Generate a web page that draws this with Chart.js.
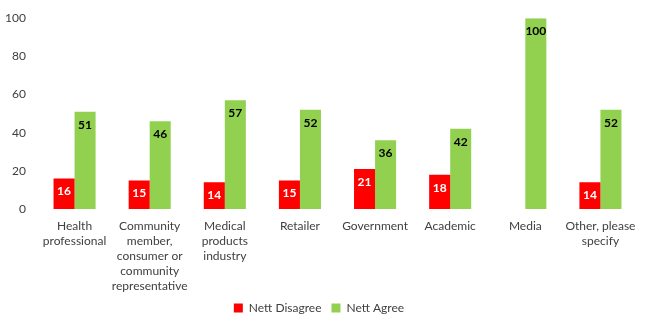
<!DOCTYPE html>
<html lang="en">
<head>
  <meta charset="UTF-8" />
  <title>Nett Agree / Disagree by Stakeholder</title>
  <script src="https://cdn.jsdelivr.net/npm/chart.js"></script>
  <style>
    html, body { margin: 0; padding: 0; background: #fff; }
    #wrap { width: 650px; height: 325px; }
  </style>
</head>
<body>
  <div id="wrap"><canvas id="stakeChart"></canvas></div>

  <script>
    const categories = [
      ["Health", "professional"],
      ["Community", "member,", "consumer or", "community", "representative"],
      ["Medical", "products", "industry"],
      ["Retailer"],
      ["Government"],
      ["Academic"],
      ["Media"],
      ["Other, please", "specify"]
    ];
    const nettDisagree = [16, 15, 14, 15, 21, 18, null, 14];
    const nettAgree = [51, 46, 57, 52, 36, 42, 100, 52];
    const yTicks = [0, 20, 40, 60, 80, 100];

    const FONT = "Lato, 'Open Sans', sans-serif";
    const TEXT = "#404040";

    // value labels drawn just inside the top of each bar
    const barValues = {
      id: "barValues",
      afterDatasetsDraw(chart) {
        const ctx = chart.ctx;
        ctx.save();
        ctx.font = "bold 12px " + FONT;
        ctx.textAlign = "center";
        ctx.textBaseline = "middle";
        chart.data.datasets.forEach((ds, i) => {
          const meta = chart.getDatasetMeta(i);
          meta.data.forEach((bar, j) => {
            const v = ds.data[j];
            if (v == null) return;
            ctx.fillStyle = ds.labelColor;
            ctx.fillText(String(v), bar.x, bar.y + 13);
          });
        });
        ctx.restore();
      }
    };

    // the long category label runs down beside the legend, so don't clip it
    const labelRoom = {
      id: "labelRoom",
      afterLayout(chart) { chart.scales.x.bottom = chart.height; }
    };

    new Chart(document.getElementById("stakeChart"), {
      type: "bar",
      data: {
        labels: categories,
        datasets: [
          {
            label: "Nett Disagree",
            data: nettDisagree,
            backgroundColor: "#FF0000",
            labelColor: "#FFFFFF",
            barPercentage: 1,
            categoryPercentage: 0.56
          },
          {
            label: "Nett Agree",
            data: nettAgree,
            backgroundColor: "#92D050",
            labelColor: "#000000",
            barPercentage: 1,
            categoryPercentage: 0.56
          }
        ]
      },
      options: {
        responsive: true,
        maintainAspectRatio: false,
        animation: false,
        layout: { padding: { top: 5, right: 12, bottom: 1, left: 0 } },
        plugins: {
          legend: {
            position: "bottom",
            labels: {
              boxWidth: 9,
              boxHeight: 9,
              padding: 10,
              color: TEXT,
              font: { family: FONT, size: 12 }
            }
          },
          tooltip: { enabled: false }
        },
        scales: {
          x: {
            grid: { display: false, drawTicks: false },
            border: { display: false },
            ticks: {
              color: TEXT,
              padding: 10,
              maxRotation: 0,
              autoSkip: false,
              font: { family: FONT, size: 12, lineHeight: 1.25 }
            },
            afterFit(scale) { scale.height = 83; }
          },
          y: {
            min: 0,
            max: 100,
            grid: { display: false, drawTicks: false },
            border: { display: false },
            afterBuildTicks(scale) { scale.ticks = yTicks.map(v => ({ value: v })); },
            ticks: {
              color: TEXT,
              padding: 11,
              font: { family: FONT, size: 12 }
            },
            afterFit(scale) { scale.width = 37; }
          }
        }
      },
      plugins: [barValues, labelRoom]
    });
  </script>
</body>
</html>
